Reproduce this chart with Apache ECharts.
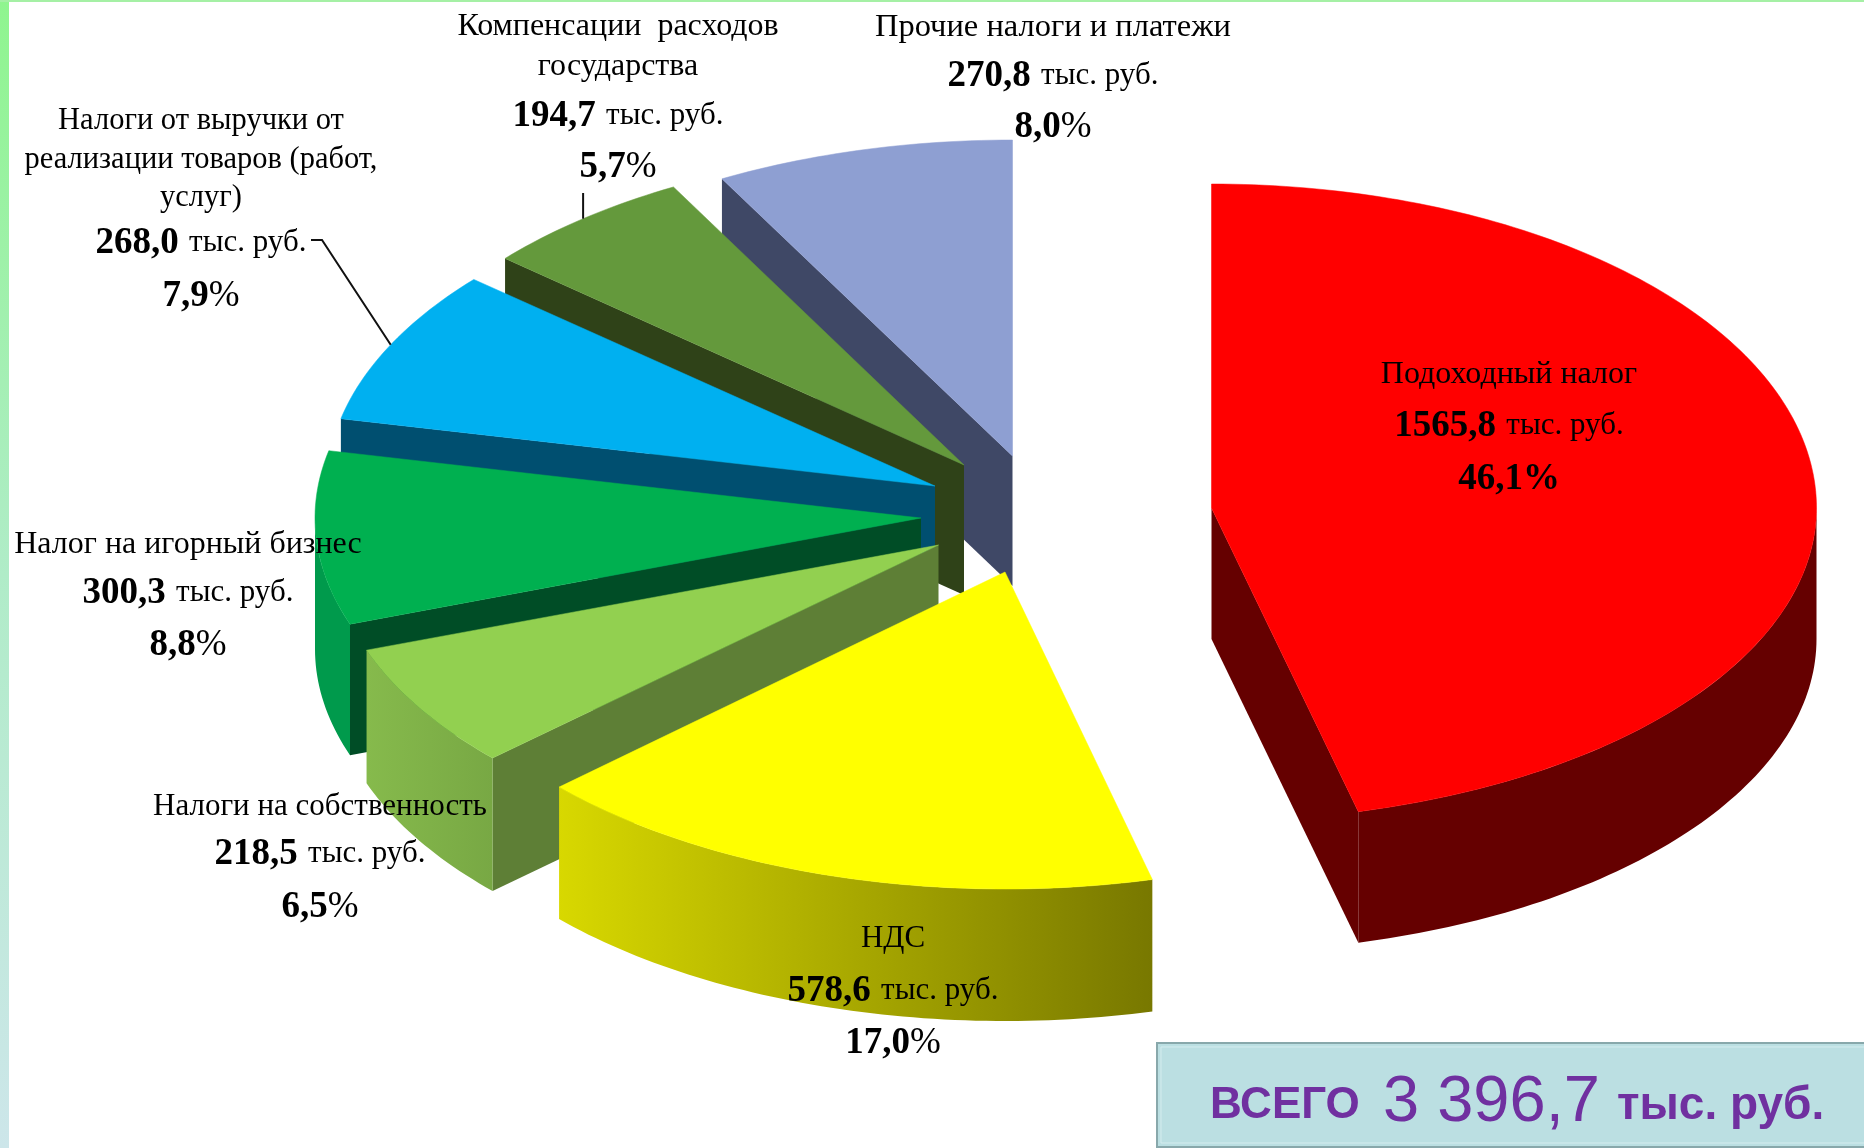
<!DOCTYPE html>
<html lang="ru">
<head>
    <meta charset="UTF-8">
    <title>Налоговые поступления</title>
    <script src="https://cdn.jsdelivr.net/npm/echarts@6/dist/echarts.min.js"></script>
    <style>
        html, body { margin: 0; padding: 0; background: #fff; }
        #chart { width: 1864px; height: 1148px; }
    </style>
</head>
<body>
<div id="chart"></div>
<script>
    // данные
    var names = [
        ['Подоходный налог'],
        ['НДС'],
        ['Налоги на собственность'],
        ['Налог на игорный бизнес'],
        ['Налоги от выручки от', 'реализации товаров (работ,', 'услуг)'],
        ['Компенсации  расходов', 'государства'],
        ['Прочие налоги и платежи']
    ];
    var values = [1565.8, 578.6, 218.5, 300.3, 268.0, 194.7, 270.8];
    var percents = ['46,1', '17,0', '6,5', '8,8', '7,9', '5,7', '8,0'];
    var totalText = '3 396,7';

    // оформление
    var topColors = ['#ff0000', '#ffff00', '#92d050', '#00b050', '#00b0f0', '#64993c', '#8e9fd2'];
    var faceColors = ['#650000', '#7c7c00', '#5e7f36', '#004d26', '#004f70', '#2f4218', '#3f4866'];
    var wallColors = ['#650000', null, null, '#009a4c', '#004f70', '#2f4218', '#3f4866'];
    var drawOrder = [6, 5, 4, 3, 2, 1, 0]; // сзади вперёд
    var centers = [[1211.5, 508], [1005, 572], [938.5, 545], [921, 518], [935, 486], [964, 465], [1012.5, 456]];
    var radiusX = [605, 607, 607, 606, 608, 605, 605];
    var radiusBack = [324, 317, 317, 317, 317, 317, 316];
    var radiusFront = [313, 317, 314, 317, 317, 317, 317];
    var depths = [131, 132, 133, 131, 130, 130, 130];
    var labelX = [1509, 893, 320, 188, 201, 618, 1053];
    var labelY = [
        [375, 426, 479], [939, 991, 1043], [807, 854, 907], [545, 593, 645],
        [121, 160, 198, 243, 296], [27, 67, 116, 167], [27, 76, 127]
    ];
    var nameSizes = [32, 31, 31, 32, 30.5, 32, 32.5];
    var total = values.reduce(function (a, b) { return a + b; }, 0);

    function rimPoint(i, deg, dy) {
        var t = deg * Math.PI / 180;
        var c = centers[i];
        var cos = Math.cos(t);
        var ry = cos > 0 ? radiusBack[i] : radiusFront[i];
        return [c[0] + radiusX[i] * Math.sin(t), c[1] - ry * cos + (dy || 0)];
    }

    function arcPoints(i, a, b, dy) {
        var pts = [];
        var n = Math.max(2, Math.ceil(Math.abs(b - a)));
        for (var k = 0; k <= n; k++) {
            pts.push(rimPoint(i, a + (b - a) * k / n, dy));
        }
        return pts;
    }

    function renderSlice(params, api) {
        var i = api.value(0);
        var c = centers[i];
        var depth = depths[i];
        var a = 0;
        for (var k = 0; k < i; k++) a += values[k] / total * 360;
        var b = a + api.value(1) / total * 360;
        var z = drawOrder.indexOf(i) * 5;
        var children = [];

        // боковая грань у начала сектора
        if (a >= 180) {
            var p = rimPoint(i, a);
            children.push({
                type: 'polygon', z2: z,
                shape: {points: [c, p, [p[0], p[1] + depth], [c[0], c[1] + depth]]},
                style: {fill: faceColors[i]}
            });
        }
        // боковая грань у конца сектора
        if (b <= 180) {
            var q = rimPoint(i, b);
            children.push({
                type: 'polygon', z2: z,
                shape: {points: [c, q, [q[0], q[1] + depth], [c[0], c[1] + depth]]},
                style: {fill: faceColors[i]}
            });
        }
        // внешняя стенка
        var w1 = Math.max(a, 90), w2 = Math.min(b, 270);
        if (w2 > w1) {
            var wall = arcPoints(i, w1, w2, 0).concat(arcPoints(i, w2, w1, depth));
            var fill = wallColors[i];
            if (i == 1) {
                fill = new echarts.graphic.LinearGradient(0, 0, 1, 0, [
                    {offset: 0, color: '#d8d800'}, {offset: 1, color: '#787800'}
                ]);
            }
            if (i == 2) {
                fill = new echarts.graphic.LinearGradient(0, 0, 1, 0, [
                    {offset: 0, color: '#86ba4c'}, {offset: 1, color: '#78a844'}
                ]);
            }
            children.push({type: 'polygon', z2: z + 1, shape: {points: wall}, style: {fill: fill}});
        }
        // верх
        children.push({
            type: 'polygon', z2: z + 2,
            shape: {points: [c].concat(arcPoints(i, a, b, 0))},
            style: {fill: topColors[i], stroke: topColors[i], lineWidth: 0.5}
        });

        // выноски
        if (i == 4) {
            children.push({
                type: 'polyline', z2: 90,
                shape: {points: [[311, 240], [322, 240], rimPoint(i, (a + b) / 2)]},
                style: {fill: null, stroke: '#111', lineWidth: 2}
            });
        }
        if (i == 5) {
            var m = rimPoint(i, (a + b) / 2);
            children.push({
                type: 'line', z2: 90,
                shape: {x1: m[0], y1: 193, x2: m[0], y2: m[1]},
                style: {stroke: '#111', lineWidth: 2}
            });
        }

        // подписи
        var rich = {
            n: {fontFamily: 'Liberation Serif', fontSize: nameSizes[i], color: '#000'},
            b: {fontFamily: 'Liberation Serif', fontSize: 37, fontWeight: 'bold', color: '#000'},
            t: {fontFamily: 'Liberation Serif', fontSize: 31, color: '#000'},
            pct: {fontFamily: 'Liberation Serif', fontSize: 37, color: '#000', fontWeight: i == 0 ? 'bold' : 'normal'}
        };
        var lines = [];
        names[i].forEach(function (s) { lines.push('{n|' + s + '}'); });
        lines.push('{b|' + values[i].toFixed(1).replace('.', ',') + '}{t|\u00a0\u200aтыс. руб.}');
        lines.push('{b|' + percents[i] + '}{pct|%}');
        lines.forEach(function (s, j) {
            children.push({
                type: 'text', z2: 100,
                style: {text: s, rich: rich, x: labelX[i], y: labelY[i][j], align: 'center', verticalAlign: 'middle'}
            });
        });
        return {type: 'group', children: children};
    }

    var chart = echarts.init(document.getElementById('chart'));
    chart.setOption({
        animation: false,
        backgroundColor: '#fff',
        graphic: [
            {
                type: 'rect', shape: {x: 0, y: 0, width: 9, height: 1148},
                style: {
                    fill: new echarts.graphic.LinearGradient(0, 0, 0, 1, [
                        {offset: 0, color: '#8ff58f'},
                        {offset: 0.5, color: '#b0ecc8'},
                        {offset: 1, color: '#cde6ea'}
                    ])
                }
            },
            {type: 'rect', shape: {x: 0, y: 0, width: 1864, height: 2}, style: {fill: '#a5f0a5'}},
            {
                type: 'rect', shape: {x: 1157, y: 1043, width: 720, height: 104},
                style: {fill: '#bbdfe2', stroke: '#88a8ab', lineWidth: 2}
            },
            {
                type: 'rect', shape: {x: 1161, y: 1047, width: 720, height: 96},
                style: {fill: 'none', stroke: '#d4ecee', lineWidth: 1}
            },
            {
                type: 'text', x: 1210, y: 1106,
                style: {text: 'ВСЕГО', verticalAlign: 'middle', fontFamily: 'Liberation Sans', fontWeight: 'bold', fontSize: 44, fill: '#7030a0'}
            },
            {
                type: 'text', x: 1383, y: 1103,
                style: {text: totalText, verticalAlign: 'middle', fontFamily: 'Liberation Sans', fontSize: 65, fill: '#7030a0'}
            },
            {
                type: 'text', x: 1617, y: 1106,
                style: {text: 'тыс. руб.', verticalAlign: 'middle', fontFamily: 'Liberation Sans', fontWeight: 'bold', fontSize: 46, fill: '#7030a0'}
            }
        ],
        series: [{
            type: 'custom',
            coordinateSystem: 'none',
            renderItem: renderSlice,
            data: values.map(function (v, i) { return [i, v]; })
        }]
    });
</script>
</body>
</html>
